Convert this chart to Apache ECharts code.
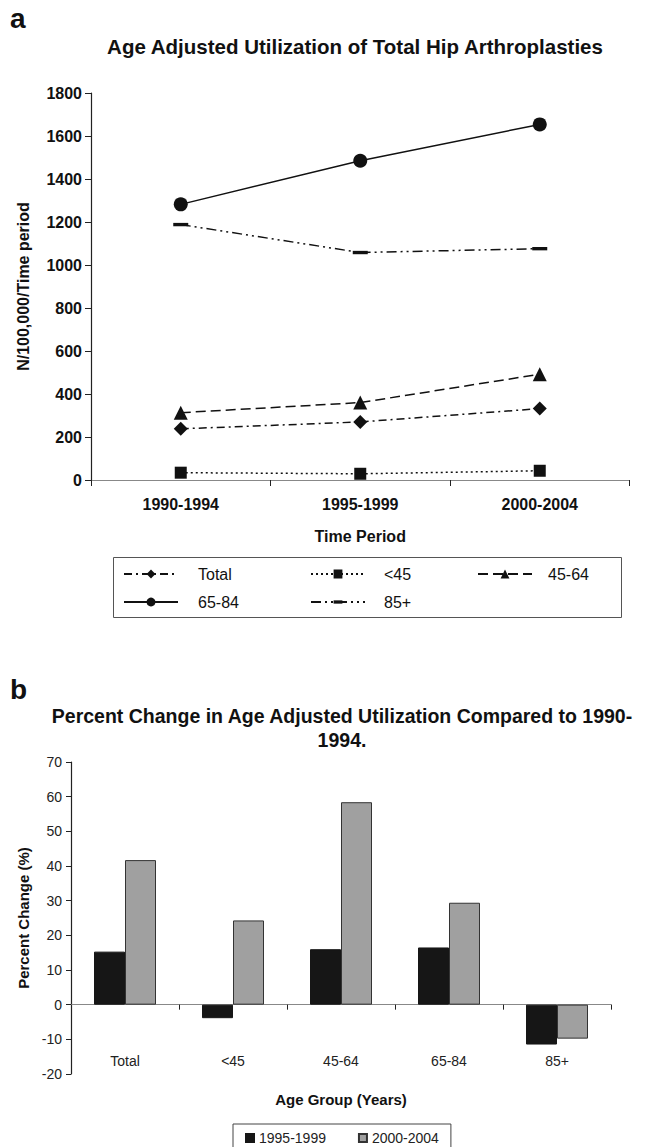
<!DOCTYPE html>
<html>
<head>
<meta charset="utf-8">
<script src="https://cdn.jsdelivr.net/npm/echarts@6/dist/echarts.min.js"></script>
<style>
html,body{margin:0;padding:0;background:#fff;}
#chart{width:645px;height:1147px;}
</style>
</head>
<body>
<div id="chart"></div>
<script>
// ---- Panel a data ----
const periods = ['1990-1994', '1995-1999', '2000-2004'];
const yTicksA = [0, 200, 400, 600, 800, 1000, 1200, 1400, 1600, 1800];
const totalVals = [238, 270, 332];
const under45Vals = [34, 29, 43];
const age45to64Vals = [313, 360, 492];
const age65to84Vals = [1282, 1485, 1654];
const age85plusVals = [1188, 1058, 1076];

// ---- Panel b data ----
const ageGroups = ['Total', '<45', '45-64', '65-84', '85+'];
const yTicksB = [-20, -10, 0, 10, 20, 30, 40, 50, 60, 70];
const pct1995to1999 = [15.3, -3.9, 16.0, 16.5, -11.5];
const pct2000to2004 = [41.7, 24.3, 58.4, 29.4, -9.8];

const FONT = '"Liberation Sans", Arial, Helvetica, sans-serif';
const INK = '#111';
const dashSymbol = 'path://M0,2.5H14V5.5H0Z M0,0L0,0 M0,8L0,8';

const chart = echarts.init(document.getElementById('chart'), null, {renderer: 'svg'});

function lineSeries(name, data, symbol, size, dash) {
  return {
    name: name, type: 'line', xAxisIndex: 0, yAxisIndex: 0,
    data: data, symbol: symbol, symbolSize: size,
    itemStyle: {color: INK},
    lineStyle: {color: INK, width: 1.5, type: dash},
    animation: false
  };
}

function legendAt(name, left, top, pad) {
  return {
    data: [name], left: left, top: top, padding: 0,
    itemWidth: 54, itemHeight: 11,
    textStyle: {fontFamily: FONT, fontSize: 16, color: INK, padding: [0, 0, 0, pad]},
    selectedMode: false
  };
}

const option = {
  backgroundColor: '#fff',
  animation: false,
  textStyle: {fontFamily: FONT},
  grid: [
    {left: 91, top: 93, width: 538.5, height: 387},
    {left: 71, top: 762, width: 540, height: 312}
  ],
  xAxis: [
    {
      type: 'category', gridIndex: 0, data: periods,
      axisLine: {lineStyle: {color: '#888', width: 1.2}},
      axisTick: {show: true, length: 6, lineStyle: {color: '#222'}},
      axisLabel: {fontFamily: FONT, fontSize: 16, fontWeight: 'bold', color: INK, margin: 16},
      name: 'Time Period', nameLocation: 'middle', nameGap: 48,
      nameTextStyle: {fontFamily: FONT, fontSize: 16, fontWeight: 'bold', color: INK}
    },
    {
      type: 'category', gridIndex: 1, data: ageGroups,
      axisLine: {onZero: true, lineStyle: {color: '#888', width: 1.2}},
      axisTick: {show: true, length: 5, lineStyle: {color: '#222'}},
      axisLabel: {show: false}
    },
    {
      type: 'category', gridIndex: 1, data: ageGroups, position: 'bottom', offset: -22,
      axisLine: {show: false, onZero: false},
      axisTick: {show: false},
      axisLabel: {fontFamily: FONT, fontSize: 14, color: '#222', margin: 2},
      name: 'Age Group (Years)', nameLocation: 'middle', nameGap: 40,
      nameTextStyle: {fontFamily: FONT, fontSize: 15, fontWeight: 'bold', color: INK}
    }
  ],
  yAxis: [
    {
      type: 'value', gridIndex: 0, min: yTicksA[0], max: yTicksA[yTicksA.length - 1], interval: 200,
      axisLine: {show: true, lineStyle: {color: '#222', width: 1.2}},
      axisTick: {show: true, length: 6, lineStyle: {color: '#222'}},
      splitLine: {show: false},
      axisLabel: {fontFamily: FONT, fontSize: 16, fontWeight: 'bold', color: INK, margin: 9,
        formatter: function (v) { return String(v); }},
      name: 'N/100,000/Time period', nameLocation: 'middle', nameGap: 60,
      nameTextStyle: {fontFamily: FONT, fontSize: 16, fontWeight: 'bold', color: INK}
    },
    {
      type: 'value', gridIndex: 1, min: yTicksB[0], max: yTicksB[yTicksB.length - 1], interval: 10,
      axisLine: {show: true, lineStyle: {color: '#222', width: 1.2}},
      axisTick: {show: true, length: 5, lineStyle: {color: '#222'}},
      splitLine: {show: false},
      axisLabel: {fontFamily: FONT, fontSize: 14, color: '#222', margin: 9},
      name: 'Percent Change (%)', nameLocation: 'middle', nameGap: 40,
      nameTextStyle: {fontFamily: FONT, fontSize: 15, fontWeight: 'bold', color: INK}
    }
  ],
  legend: [
    legendAt('Total', 123, 566, 15),
    legendAt('<45', 310, 566, 14),
    legendAt('45-64', 477, 566, 11),
    legendAt('65-84', 123, 594, 15),
    legendAt('85+', 310, 594, 14),
    {
      data: ['1995-1999', '2000-2004'], left: 233, top: 1124,
      padding: [7, 12, 8, 12], itemGap: 32,
      borderColor: '#444', borderWidth: 1,
      itemWidth: 8, itemHeight: 8, icon: 'rect',
      textStyle: {fontFamily: FONT, fontSize: 14, color: '#222'},
      selectedMode: false
    }
  ],
  series: [
    lineSeries('Total', totalVals, 'diamond', 14, [8, 4, 2, 4]),
    lineSeries('<45', under45Vals, 'rect', 12, [2, 3]),
    lineSeries('45-64', age45to64Vals, 'triangle', 14, [10, 5]),
    lineSeries('65-84', age65to84Vals, 'circle', 14, 'solid'),
    lineSeries('85+', age85plusVals, dashSymbol, [15, 9], [10, 4, 2, 4, 2, 4]),
    {
      name: '1995-1999', type: 'bar', xAxisIndex: 1, yAxisIndex: 1,
      data: pct1995to1999, barWidth: 31, barGap: '0%',
      itemStyle: {color: '#161616', borderColor: '#161616', borderWidth: 1}
    },
    {
      name: '2000-2004', type: 'bar', xAxisIndex: 1, yAxisIndex: 1,
      data: pct2000to2004, barWidth: 31, barGap: '0%',
      itemStyle: {color: '#a0a0a0', borderColor: '#333', borderWidth: 1}
    }
  ],
  graphic: [
    {type: 'text', left: 10, top: 4, style: {text: 'a', font: 'bold 28px ' + FONT, fill: INK}},
    {type: 'text', x: 355, y: 46, style: {text: 'Age Adjusted Utilization of Total Hip Arthroplasties', font: 'bold 20.5px ' + FONT, fill: INK, textAlign: 'center', textVerticalAlign: 'middle'}},
    {type: 'rect', shape: {x: 113.5, y: 557.5, width: 508, height: 60}, style: {fill: 'none', stroke: '#555', lineWidth: 1}},
    {type: 'text', left: 10, top: 675, style: {text: 'b', font: 'bold 28px ' + FONT, fill: INK}},
    {type: 'text', x: 342, y: 728, style: {text: 'Percent Change in Age Adjusted Utilization Compared to 1990-\n1994.', font: 'bold 19.5px ' + FONT, fill: INK, textAlign: 'center', textVerticalAlign: 'middle', lineHeight: 24}}
  ]
};

chart.setOption(option);
</script>
</body>
</html>
